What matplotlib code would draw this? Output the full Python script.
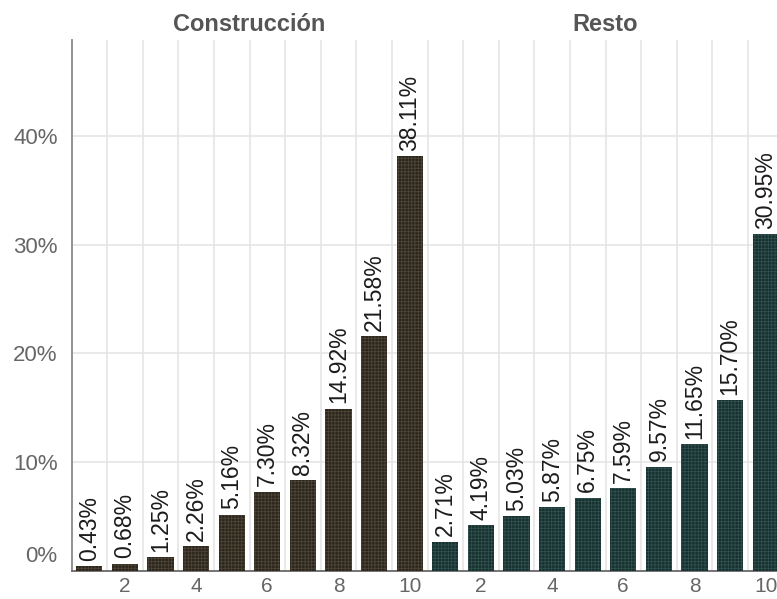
import matplotlib
matplotlib.use("Agg")
import matplotlib.pyplot as plt
import matplotlib.transforms as mtransforms
import numpy as np

# Share of each group by decile (1..10), in percent
deciles = list(range(1, 11))
construccion = [0.43, 0.68, 1.25, 2.26, 5.16, 7.30, 8.32, 14.92, 21.58, 38.11]
resto = [2.71, 4.19, 5.03, 5.87, 6.75, 7.59, 9.57, 11.65, 15.70, 30.95]
panels = ["Construcción", "Resto"]
yticks = [0, 10, 20, 30, 40]
xtick_labels = [2, 4, 6, 8, 10]

COLORS = {"Construcción": ("#2b251c", "#4d4536"),
          "Resto": ("#15302f", "#31504d")}
plt.rcParams["hatch.linewidth"] = 0.6

fig = plt.figure(figsize=(7.77, 5.99), dpi=100, facecolor="white")
W, H = 777, 599
# one axes spanning both facets; right panel runs past the figure edge
ax = fig.add_axes([71.5 / W, 28 / H, 712 / W, 531 / H])
ax.set_xlim(0.5, 20.5)
ax.set_ylim(0, 48.8)

x_c = np.array(deciles, dtype=float)
x_r = x_c + 10
for xs, vals, name in [(x_c, construccion, panels[0]), (x_r, resto, panels[1])]:
    face, hatch_c = COLORS[name]
    ax.bar(xs, vals, width=0.74, color=face, edgecolor=hatch_c, linewidth=0,
           hatch="+++++", zorder=3)
    for x, v in zip(xs, vals):
        ax.annotate(f"{v:.2f}%", (x, v), xytext=(0, 4), textcoords="offset points",
                    rotation=90, ha="center", va="bottom", fontsize=16.5,
                    family="Liberation Sans", color="#1c1c1c", zorder=4)

# grid: horizontal at the ticks, vertical between the bars
for y in yticks:
    ax.axhline(y, color="#e3e3e3", lw=1.1, zorder=0)
for gx in np.arange(1.5, 20.5, 1.0):
    ax.axvline(gx, color="#e3e3e3", lw=1.1, zorder=0)

for s in ["top", "right"]:
    ax.spines[s].set_visible(False)
ax.spines["left"].set_color("#8a8a8a")
ax.spines["left"].set_linewidth(1.3)
ax.spines["bottom"].set_color("#6a6a6a")
ax.spines["bottom"].set_linewidth(1.3)

ax.set_yticks(yticks)
ax.set_yticklabels([f"{y}%" for y in yticks])
xt = xtick_labels + [t + 10 for t in xtick_labels]
ax.set_xticks(xt)
ax.set_xticklabels([str(t) for t in xtick_labels] * 2)
ax.tick_params(length=0, colors="#666666", labelsize=16)
ax.tick_params(axis="y", pad=10)
ax.tick_params(axis="x", pad=4, labelsize=15)
for lab in ax.get_xticklabels() + ax.get_yticklabels():
    lab.set_family("Liberation Sans")

# lift the 0% label off the axis line
zero_lab = ax.get_yticklabels()[0]
zero_lab.set_transform(zero_lab.get_transform() +
                       mtransforms.ScaledTranslation(0, 12 / 72, fig.dpi_scale_trans))

# facet strip titles
for cx, name in [(5.5, panels[0]), (15.5, panels[1])]:
    ax.text(cx, 1.008, name, transform=ax.get_xaxis_transform(), ha="center",
            va="bottom", fontsize=17, fontweight="bold", color="#555555",
            family="Liberation Sans")

fig.savefig("out.png", dpi=100, facecolor="white")
